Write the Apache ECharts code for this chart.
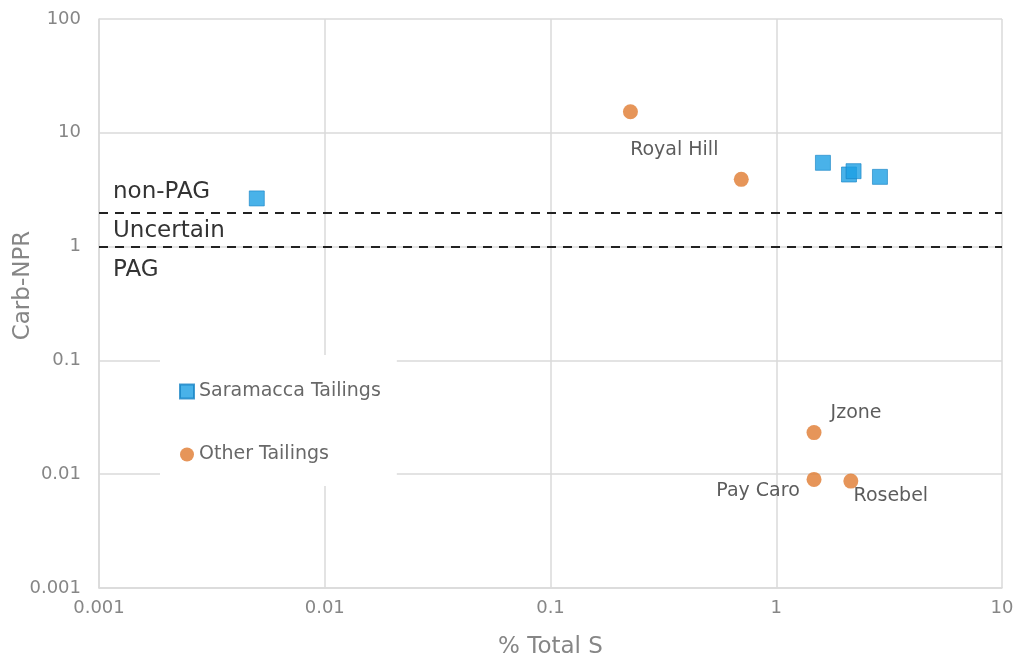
<!DOCTYPE html>
<html>
<head>
<meta charset="utf-8">
<title>Carb-NPR vs % Total S</title>
<script src="https://cdn.jsdelivr.net/npm/echarts@6/dist/echarts.min.js"></script>
<style>
  html, body { margin: 0; padding: 0; background: #fff; }
  #chart { width: 1017px; height: 663px; }
</style>
</head>
<body>
<div id="chart"></div>
<script>
// Saramacca tailings samples (% total S, Carb-NPR)
const saramaccaS = [0.005, 1.61, 2.1, 2.2, 2.88];
const saramaccaNPR = [2.65, 5.45, 4.3, 4.6, 4.1];

// Other tailings (% total S, Carb-NPR) with site names
const otherS = [0.226, 0.70, 1.47, 1.47, 2.14];
const otherNPR = [15.3, 3.9, 0.0232, 0.0090, 0.0087];
const otherNames = ['', 'Royal Hill', 'Jzone', 'Pay Caro', 'Rosebel'];

// Classification thresholds on Carb-NPR
const thresholdUpper = 2;
const thresholdLower = 1;

// Axis tick labels (one per decade)
const xTickLabels = ['0.001', '0.01', '0.1', '1', '10'];
const yTickLabels = ['0.001', '0.01', '0.1', '1', '10', '100'];

// Where each site name sits relative to its marker (px)
const nameOffsets = {
  'Royal Hill': [-67, -29],
  'Jzone': [42, -20],
  'Pay Caro': [-56, 12],
  'Rosebel': [40, 15]
};

const FONT = 'DejaVu Sans';
const GRID_COLOR = '#dadada';
const TICK_COLOR = '#868686';

const chart = echarts.init(document.getElementById('chart'));

const saramaccaData = saramaccaS.map((s, i) => [s, saramaccaNPR[i]]);
const otherData = otherS.map((s, i) => {
  const name = otherNames[i];
  const item = { value: [s, otherNPR[i]], name: name };
  if (name) {
    item.label = {
      show: true,
      position: 'inside',
      offset: nameOffsets[name],
      formatter: name
    };
  }
  return item;
});

function decadeLabel(labels, minExp) {
  return function (v) {
    const idx = Math.round(Math.log10(v)) - minExp;
    return labels[idx] !== undefined ? labels[idx] : '';
  };
}

const thresholdLabel = {
  fontFamily: FONT,
  fontSize: 23,
  color: '#333333'
};

chart.setOption({
  animation: false,
  backgroundColor: '#ffffff',
  grid: { left: 99, right: 15, top: 19, bottom: 75, outerBoundsMode: 'none', containLabel: false },
  legend: {
    orient: 'vertical',
    left: 160,
    top: 355,
    backgroundColor: '#ffffff',
    padding: [27, 16, 22, 19],
    itemGap: 44,
    itemWidth: 14,
    itemHeight: 14,
    textStyle: { fontFamily: FONT, fontSize: 19, color: '#686868' },
    data: [
      { name: 'Saramacca Tailings', icon: 'rect' },
      { name: 'Other Tailings', icon: 'circle' }
    ]
  },
  xAxis: {
    type: 'log',
    logBase: 10,
    min: 0.001,
    max: 10,
    name: '% Total S',
    nameLocation: 'middle',
    nameGap: 48,
    nameMoveOverlap: false,
    nameTextStyle: { fontFamily: FONT, fontSize: 23, color: TICK_COLOR },
    axisLine: { show: true, lineStyle: { color: GRID_COLOR, width: 1.5 } },
    axisTick: { show: false },
    minorTick: { show: false },
    splitLine: { show: true, lineStyle: { color: GRID_COLOR, width: 1.5 } },
    axisLabel: {
      fontFamily: FONT,
      fontSize: 18,
      color: TICK_COLOR,
      margin: 11,
      formatter: decadeLabel(xTickLabels, -3)
    }
  },
  yAxis: {
    type: 'log',
    logBase: 10,
    min: 0.001,
    max: 100,
    name: 'Carb-NPR',
    nameLocation: 'middle',
    nameRotate: 90,
    nameGap: 64,
    nameMoveOverlap: false,
    nameTextStyle: { fontFamily: FONT, fontSize: 23, color: TICK_COLOR, padding: [0, 0, 0, 36] },
    axisLine: { show: true, lineStyle: { color: GRID_COLOR, width: 1.5 } },
    axisTick: { show: false },
    minorTick: { show: false },
    splitLine: { show: true, lineStyle: { color: GRID_COLOR, width: 1.5 } },
    axisLabel: {
      fontFamily: FONT,
      fontSize: 18,
      color: TICK_COLOR,
      margin: 18,
      formatter: decadeLabel(yTickLabels, -3)
    }
  },
  series: [
    {
      name: 'Saramacca Tailings',
      type: 'scatter',
      symbol: 'rect',
      symbolSize: 15,
      itemStyle: { color: '#1c9fe3', borderColor: '#1683c4', borderWidth: 0.8 },
      data: saramaccaData,
      z: 3,
      markLine: {
        silent: true,
        symbol: 'none',
        animation: false,
        lineStyle: { color: '#222222', type: [9, 7], width: 2 },
        data: [
          {
            yAxis: thresholdUpper,
            label: Object.assign({
              formatter: 'non-PAG',
              position: 'insideStartTop',
              distance: [14, 9]
            }, thresholdLabel)
          },
          {
            yAxis: thresholdLower,
            label: Object.assign({
              formatter: 'Uncertain',
              position: 'insideStartTop',
              distance: [14, 4]
            }, thresholdLabel)
          },
          {
            yAxis: thresholdLower,
            lineStyle: { color: 'rgba(0,0,0,0)', type: 'solid', width: 1 },
            label: Object.assign({
              formatter: 'PAG',
              position: 'insideStartBottom',
              distance: [14, 12]
            }, thresholdLabel)
          }
        ]
      }
    },
    {
      name: 'Other Tailings',
      type: 'scatter',
      symbol: 'circle',
      symbolSize: 15,
      itemStyle: { color: '#e07a2f' },
      label: {
        show: false,
        fontFamily: FONT,
        fontSize: 19,
        color: '#333333'
      },
      data: otherData,
      z: 3
    }
  ]
});
</script>
</body>
</html>
